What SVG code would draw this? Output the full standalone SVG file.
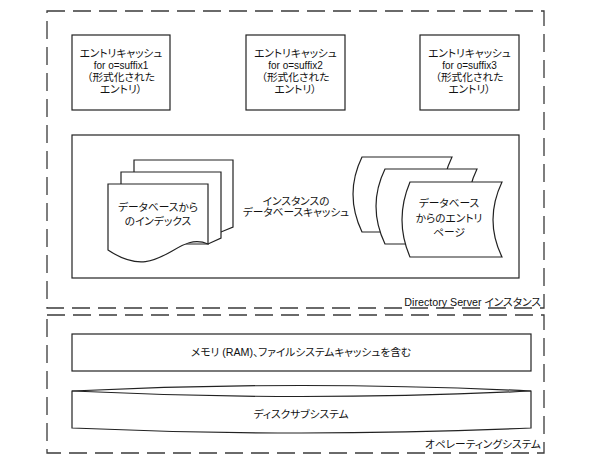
<svg xmlns="http://www.w3.org/2000/svg" width="593" height="463" viewBox="0 0 593 463">
<style>
text{font-family:"Liberation Sans","Noto Sans CJK JP",sans-serif;font-size:10.7px;fill:#111;text-anchor:middle;font-feature-settings:"palt"}
.lat{font-size:10px}
.dash{fill:none;stroke:#3a3a3a;stroke-width:1.3;stroke-dasharray:18 8}
.box{fill:#fff;stroke:#222;stroke-width:1.2}
.lbl{text-anchor:end}
</style>
<rect width="593" height="463" fill="#fff"/>
<g id="ds-instance">
<rect class="dash" x="47" y="11" width="497" height="297"/>
<text class="lbl" x="541" y="306">Directory Server インスタンス</text>
</g>
<g id="os">
<rect class="dash" x="47" y="315" width="497" height="138"/>
<text class="lbl" x="541" y="448">オペレーティングシステム</text>
</g>
<g id="entry-cache-1">
<rect class="box" x="72" y="35" width="98" height="75"/>
<text x="121" y="57">エントリキャッシュ</text>
<text class="lat" x="121" y="69">for o=suffix1</text>
<text x="121" y="81">（形式化された</text>
<text x="121" y="93">エントリ）</text>
</g>
<g id="entry-cache-2">
<rect class="box" x="246" y="35" width="99" height="75"/>
<text x="295.5" y="57">エントリキャッシュ</text>
<text class="lat" x="295.5" y="69">for o=suffix2</text>
<text x="295.5" y="81">（形式化された</text>
<text x="295.5" y="93">エントリ）</text>
</g>
<g id="entry-cache-3">
<rect class="box" x="420" y="35" width="99" height="75"/>
<text x="469.5" y="57">エントリキャッシュ</text>
<text class="lat" x="469.5" y="69">for o=suffix3</text>
<text x="469.5" y="81">（形式化された</text>
<text x="469.5" y="93">エントリ）</text>
</g>
<g id="db-cache">
<rect class="box" x="72" y="135" width="447" height="143"/>
<text x="296" y="205">インスタンスの</text>
<text x="296" y="216">データベースキャッシュ</text>
</g>
<g id="db-index">
<path class="box" d="M134,232 V160 H233 V227 L221,232 Z"/>
<path class="box" d="M121,244 V172 H221 V238 L208,244 Z"/>
<path class="box" d="M108,184 H208 V244 C175,230 160,285 108,250 Z"/>
<text x="158" y="211">データベースから</text>
<text x="158" y="225">のインデックス</text>
</g>
<g id="db-entry-pages">
<path class="box" d="M362,157 L452,157 Q434,194 452,232 L362,232 Q344,194 362,157 Z"/>
<path class="box" d="M385,169 L477,169 Q459,206 477,244 L385,244 Q367,206 385,169 Z"/>
<path class="box" d="M410,182 L502,182 Q484,220 502,257 L410,257 Q394,220 410,182 Z"/>
<text x="449" y="207">データベース</text>
<text x="449" y="222">からのエントリ</text>
<text x="449" y="236">ページ</text>
</g>
<g id="memory">
<rect class="box" x="72" y="334" width="459" height="37"/>
<text x="301" y="356">メモリ (RAM)、ファイルシステムキャッシュを含む</text>
</g>
<g id="disk">
<path class="box" d="M72,391 Q301,380 531,391 L531,428 Q301,438 72,428 Z"/>
<path class="box" fill="none" d="M72,391 Q301,402 531,391"/>
<text x="301" y="418">ディスクサブシステム</text>
</g>
<g id="connectors"></g>
</svg>
